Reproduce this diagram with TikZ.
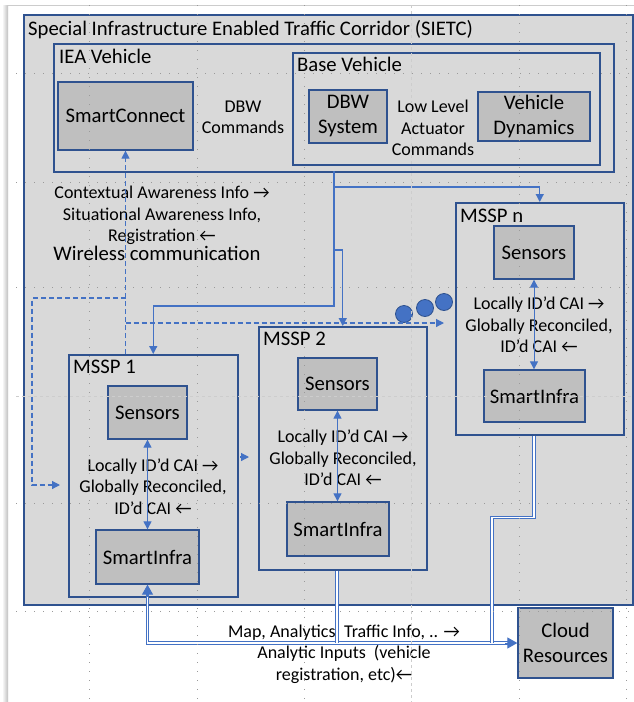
\documentclass[tikz,border=0pt]{standalone}
\usepackage{fontspec}
\setmainfont{Carlito}
\usetikzlibrary{arrows.meta, positioning}

\definecolor{panelgray}{HTML}{D9D9D9}
\definecolor{unitgray}{HTML}{BFBFBF}
\definecolor{edgeblue}{HTML}{2F528F}
\definecolor{linkblue}{HTML}{4472C4}
\definecolor{guidegray}{HTML}{9A9A9A}

\begin{document}
\begin{tikzpicture}[
  x=1pt, y=-1pt,
  frame/.style={
    rectangle,
    draw=edgeblue,
    line width=1.5pt,
    fill=panelgray,
    anchor=north west,
    inner sep=0pt
  },
  unit/.style={
    rectangle,
    draw=edgeblue,
    line width=1.3pt,
    fill=unitgray,
    align=center,
    inner sep=0pt,
    font=\fontsize{20.7}{25}\selectfont
  },
  tag/.style={anchor=base west, inner sep=0pt, font=\fontsize{20.7}{25}\selectfont},
  note/.style={align=center, inner sep=0pt, font=\fontsize{18}{21.5}\selectfont},
  arrow/.style={draw=linkblue, line width=1.2pt, -{Triangle[length=8pt,width=8pt]}},
  pair/.style={arrow, line width=1pt, {Triangle[length=8pt,width=8pt]}-{Triangle[length=8pt,width=8pt]}},
  wireless/.style={arrow, dash pattern=on 5pt off 3pt},
  cloudlink/.style={draw=linkblue, line width=0.9pt, double=white, double distance=1.3pt},
  cloudtip/.style={draw=linkblue, fill=linkblue, line width=1pt, -{Triangle[length=10pt,width=11pt]}},
  dot/.style={circle, draw=edgeblue, line width=0.8pt, fill=linkblue, minimum size=17pt, inner sep=0pt},
  guide/.style={guidegray, line width=0.6pt, dash pattern=on 1pt off 8pt},
  midguide/.style={guidegray!50, line width=0.7pt, dash pattern=on 3pt off 3pt}
]
\useasboundingbox (0,0) rectangle (634,702);
\fill[white] (0,0) rectangle (634,702);
\shade[left color=white, right color=black!25] (2,5) rectangle (8,702);
\draw[black!20, line width=1pt] (8,5) -- (634,5);

% corridor and vehicle
\node[frame, minimum width=609pt, minimum height=590pt] (sietc) at (23,14) {};
\node[tag] (sietclabel) at ([shift={(5,21)}]sietc.north west) {Special Infrastructure Enabled Traffic Corridor (SIETC)};

\node[frame, minimum width=560pt, minimum height=128pt] (iea) at (53,43) {};
\node[tag] (iealabel) at ([shift={(6,20)}]iea.north west) {IEA Vehicle};

\node[frame, minimum width=307pt, minimum height=112pt] (base) at (292,52) {};
\node[tag] (baselabel) at ([shift={(5,19)}]base.north west) {Base Vehicle};

\node[unit, minimum width=135pt, minimum height=68pt] (smartconnect) at (125.5,116) {SmartConnect};
\node[note] (dbwcmd) at (243,117.5) {DBW\\Commands};
\node[unit, minimum width=78pt, minimum height=53pt] (dbw) at (348,116.5) {DBW\\System};
\node[note] (lowlevel) at (433,128) {Low Level\\Actuator\\Commands};
\node[unit, minimum width=112pt, minimum height=49pt] (dynamics) at (534,116.5) {Vehicle\\Dynamics};

% MSSPs
\node[frame, minimum width=168pt, minimum height=232pt] (msspn) at (455,202) {};
\node[tag] (msspnlabel) at ([shift={(5,20)}]msspn.north west) {MSSP n};
\node[unit, minimum width=80pt, minimum height=53pt] (sensorsn) at (534,252.5) {Sensors};
\node[note] (cain) at (539,325) {Locally ID’d CAI →\\Globally Reconciled,\\ID’d CAI ←};
\node[unit, minimum width=101pt, minimum height=52pt] (infran) at (534.5,396) {SmartInfra};

\node[frame, minimum width=168pt, minimum height=243pt] (mssp2) at (258,326) {};
\node[tag] (mssp2label) at ([shift={(5,19)}]mssp2.north west) {MSSP 2};
\node[unit, minimum width=79pt, minimum height=52pt] (sensors2) at (337.5,384) {Sensors};
\node[note] (cai2) at (343,458) {Locally ID’d CAI →\\Globally Reconciled,\\ID’d CAI ←};
\node[unit, minimum width=102pt, minimum height=54pt] (infra2) at (338,529) {SmartInfra};

\node[frame, minimum width=169pt, minimum height=242pt] (mssp1) at (68,354) {};
\node[tag] (mssp1label) at ([shift={(5,19)}]mssp1.north west) {MSSP 1};
\node[unit, minimum width=79pt, minimum height=53pt] (sensors1) at (147.5,412.5) {Sensors};
\node[note] (cai1) at (153,486.5) {Locally ID’d CAI →\\Globally Reconciled,\\ID’d CAI ←};
\node[unit, minimum width=103pt, minimum height=54pt] (infra1) at (147.5,557) {SmartInfra};

\node[dot] (dot1) at (404,314) {};
\node[dot] (dot2) at (425,308) {};
\node[dot] (dot3) at (444,302) {};

% wireless link texts
\node[note] (awareness) at (162,215.5) {Contextual Awareness Info →\\Situational Awareness Info,\\Registration ←};
\node[inner sep=0pt, font=\fontsize{20.7}{25}\selectfont] (wireless) at (157,253) {Wireless communication};

% cloud
\node[unit, minimum width=95pt, minimum height=70pt] (cloud) at (565.5,643) {Cloud\\Resources};
\node[note] (cloudtext) at (344,654) {Map, Analytics, Traffic Info, .. →\\Analytic Inputs~~(vehicle\\registration, etc)←};

% connectors
\coordinate (trunk) at (334,171);
\draw[arrow] (trunk) -- (334,187) -| (msspn.north);
\draw[arrow] (trunk) -- (334,306) -| (mssp1.north);
\draw[arrow] (334,250) -| (mssp2.north);

\draw[wireless] (smartconnect.south |- mssp1.north) -- (smartconnect.south);
\draw[wireless, shorten >=11pt] (smartconnect.south |- 0,323) -- (msspn.west |- 0,323);
\draw[wireless, shorten >=8pt] (smartconnect.south |- 0,298) -- (32,298) |- (mssp1.west |- 0,485);

\draw[pair] (sensors1) -- (infra1);
\draw[pair] (sensors2.south) -- (sensors2.south |- infra2.north);
\draw[pair] (sensorsn.south) -- (sensorsn.south |- infran.north);

\coordinate (nudge) at (240,457);
\draw[arrow] (nudge) -- ++(9,0);

\draw[cloudlink] ([yshift=-8pt]infra1.south) |- ([xshift=-9pt]cloud.west);
\draw[cloudlink] ([xshift=79pt]mssp2.south west) -- ([xshift=79pt]mssp2.south west |- cloud.west);
\draw[cloudlink] ([xshift=79pt]msspn.south west) -- ++(0,82) -| (492,643);
\draw[cloudtip] ([yshift=-12pt]infra1.south) -- (infra1.south);
\draw[cloudtip] ([xshift=-12pt]cloud.west) -- (cloud.west);

% guides
\foreach \gx in {89,197,304,519,626}
  \draw[guide] (\gx,5) -- (\gx,702);
\foreach \gy in {73,182,287,503,611}
  \draw[guide] (16,\gy) -- (634,\gy);
\draw[midguide] (411,5) -- (411,702);
\draw[midguide] (16,396) -- (634,396);
\end{tikzpicture}
\end{document}
